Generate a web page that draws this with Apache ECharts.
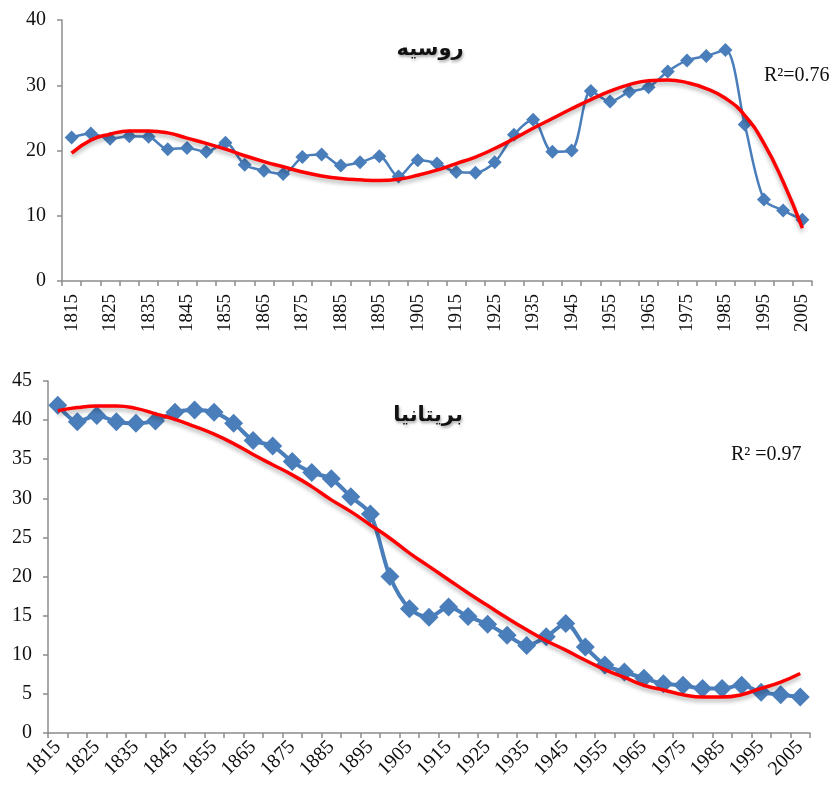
<!DOCTYPE html>
<html>
<head>
<meta charset="utf-8">
<script src="https://cdn.jsdelivr.net/npm/echarts@6/dist/echarts.min.js"></script>
<style>
html,body{margin:0;padding:0;background:#fff;}
#chart{width:835px;height:789px;}
</style>
</head>
<body>
<div id="chart"></div>
<script>
const years = ['1815','1820','1825','1830','1835','1840','1845','1850','1855','1860','1865','1870','1875','1880','1885','1890','1895','1900','1905','1910','1915','1920','1925','1930','1935','1940','1945','1950','1955','1960','1965','1970','1975','1980','1985','1990','1995','2000','2005'];

const russiaValues = [22.0, 22.6, 21.8, 22.2, 22.1, 20.2, 20.4, 19.8, 21.2, 17.8, 16.9, 16.4, 19.0, 19.4, 17.7, 18.2, 19.1, 16.0, 18.5,
  18.0, 16.7, 16.6, 18.2, 22.4, 24.7, 19.8, 20.0, 29.1, 27.5, 29.0, 29.7, 32.1, 33.8, 34.5, 35.4, 24.0, 12.5, 10.8, 9.4];
const russiaTrend = [19.6, 21.6, 22.5, 23.0, 23.0, 22.7, 21.9, 21.1, 20.2, 19.2, 18.3, 17.5, 16.7, 16.1, 15.7, 15.5, 15.4, 15.6, 16.2,
  17.0, 18.0, 19.0, 20.3, 21.8, 23.4, 24.9, 26.4, 27.8, 29.1, 30.1, 30.7, 30.8, 30.4, 29.5, 28.0, 25.4, 21.1, 15.2, 8.1];

const britainValues = [41.9, 39.8, 40.6, 39.8, 39.6, 39.9, 41.0, 41.3, 41.0, 39.6, 37.4, 36.7, 34.7, 33.3, 32.5, 30.2, 28.0, 20.0, 15.9,
  14.8, 16.1, 14.9, 13.9, 12.5, 11.2, 12.3, 14.0, 11.0, 8.7, 7.8, 7.0, 6.3, 6.1, 5.7, 5.7, 6.1, 5.2, 4.9, 4.6];
const britainTrend = [41.2, 41.6, 41.8, 41.8, 41.5, 40.8, 40.1, 39.2, 38.2, 37.0, 35.6, 34.3, 33.0, 31.5, 29.8, 28.3, 26.6, 24.9, 23.0,
  21.3, 19.6, 17.9, 16.3, 14.7, 13.2, 11.8, 10.6, 9.3, 8.1, 7.1, 6.1, 5.5, 4.9, 4.6, 4.6, 4.9, 5.7, 6.5, 7.6];

const russiaTitle = 'روسیه';
const britainTitle = 'بریتانیا';
const russiaR2 = 'R²=0.76';
const britainR2 = 'R² =0.97';

const serif = '"Liberation Serif", "Times New Roman", serif';
const axisGrey = '#8c8c8c';
const blue = '#4A7EBB';

function xAxisFor(gridIndex, rotate, margin, fs) {
  return {
    type: 'category', gridIndex: gridIndex, data: years, boundaryGap: true,
    axisLine: { lineStyle: { color: axisGrey, width: 1.5 } },
    axisTick: { show: true, interval: 0, length: 5, lineStyle: { color: axisGrey, width: 1.5 } },
    axisLabel: { interval: 1, rotate: rotate, margin: margin, color: '#111', fontFamily: serif, fontSize: fs },
    splitLine: { show: false }
  };
}
function yAxisFor(gridIndex, max, interval, fs, margin) {
  return {
    type: 'value', gridIndex: gridIndex, min: 0, max: max, interval: interval,
    axisLine: { show: true, lineStyle: { color: axisGrey, width: 1.5 } },
    axisTick: { show: true, length: 5, lineStyle: { color: axisGrey, width: 1.5 } },
    axisLabel: { color: '#111', fontFamily: serif, fontSize: fs, margin: margin },
    splitLine: { show: false }
  };
}
const titleStyle = { fontFamily: '"DejaVu Sans", sans-serif', fontWeight: 'bold', fontSize: 21, color: '#111',
  textShadowColor: 'rgba(0,0,0,0.35)', textShadowBlur: 3, textShadowOffsetX: 1, textShadowOffsetY: 2 };

const chart = echarts.init(document.getElementById('chart'), null, { renderer: 'canvas' });
chart.setOption({
  backgroundColor: '#ffffff',
  animation: false,
  title: [
    { text: russiaTitle, left: 425, top: 34, textAlign: 'center', textStyle: titleStyle },
    { text: britainTitle, left: 423, top: 400, textAlign: 'center', textStyle: titleStyle },
    { text: russiaR2, left: 759, top: 61,
      textStyle: { fontFamily: serif, fontWeight: 'normal', fontSize: 20, color: '#111' } },
    { text: britainR2, left: 726, top: 440,
      textStyle: { fontFamily: serif, fontWeight: 'normal', fontSize: 20, color: '#111' } }
  ],
  grid: [
    { left: 62, top: 20, width: 750, height: 261 },
    { left: 48, top: 381, width: 762, height: 352 }
  ],
  xAxis: [xAxisFor(0, 90, 13, 19), xAxisFor(1, 45, 11, 20)],
  yAxis: [yAxisFor(0, 40, 10, 20, 16), yAxisFor(1, 45, 5, 20, 16)],
  series: [
    { type: 'line', xAxisIndex: 0, yAxisIndex: 0, data: russiaValues, smooth: 0.3,
      symbol: 'diamond', symbolSize: 14, showAllSymbol: true,
      lineStyle: { color: blue, width: 2.5 }, itemStyle: { color: blue }, z: 2 },
    { type: 'line', xAxisIndex: 0, yAxisIndex: 0, data: russiaTrend, smooth: 0.5, symbol: 'none',
      lineStyle: { color: '#ff0000', width: 3.5, shadowColor: 'rgba(0,0,0,0.3)', shadowBlur: 4, shadowOffsetY: 3 }, z: 3 },
    { type: 'line', xAxisIndex: 1, yAxisIndex: 1, data: britainValues, smooth: 0.3,
      symbol: 'diamond', symbolSize: 19, showAllSymbol: true,
      lineStyle: { color: blue, width: 4 }, itemStyle: { color: blue }, z: 2 },
    { type: 'line', xAxisIndex: 1, yAxisIndex: 1, data: britainTrend, smooth: 0.5, symbol: 'none',
      lineStyle: { color: '#ff0000', width: 3.5, shadowColor: 'rgba(0,0,0,0.3)', shadowBlur: 4, shadowOffsetY: 3 }, z: 3 }
  ]
});
</script>
</body>
</html>
